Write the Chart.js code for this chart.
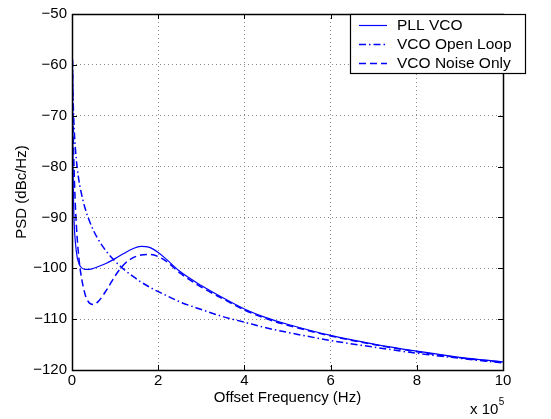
<!DOCTYPE html>
<html>
<head>
<meta charset="utf-8">
<title>PSD</title>
<script src="https://cdn.jsdelivr.net/npm/chart.js@4/dist/chart.umd.min.js"></script>
<style>
  html, body { margin: 0; padding: 0; background: #fff; }
  canvas { display: block; }
</style>
</head>
<body>
<canvas id="chart" width="551" height="419"></canvas>
<script>
// offset frequency, in units of 1e5 Hz
const freq = [0.01, 0.02, 0.03, 0.05, 0.08, 0.12, 0.16, 0.2, 0.3, 0.4, 0.5, 0.6, 0.8, 1.0, 1.2, 1.4, 1.6, 1.8, 2.0, 2.2, 2.5, 3.0, 3.5, 4.0, 4.5, 5.0, 6.0, 7.0, 8.0, 9.0, 10.0];

// PSD values (dBc/Hz)
const pllVco = [-59, -75, -84, -91, -95, -97.8, -99, -99.7, -100.2, -100.2, -100.0, -99.7, -99.0, -98.1, -97.1, -96.2, -95.7, -95.9, -96.9, -98.3, -100.6, -103.4, -105.8, -108.0, -109.7, -111.0, -113.2, -114.9, -116.3, -117.5, -118.4];
const vcoOpenLoop = [-59, -64.5, -68, -72.5, -76.6, -80.2, -82.7, -84.6, -88.1, -90.6, -92.6, -94.2, -96.7, -98.6, -100.2, -101.5, -102.7, -103.7, -104.6, -105.4, -106.6, -108.1, -109.5, -110.6, -111.7, -112.6, -114.2, -115.5, -116.7, -117.7, -118.6];
const vcoNoiseOnly = [-59, -68, -74, -81, -88, -94, -98, -100.8, -105, -106.8, -107.1, -106.6, -104.3, -101.5, -99.3, -98.0, -97.4, -97.3, -97.7, -98.7, -100.9, -103.7, -106.0, -108.2, -109.9, -111.2, -113.3, -115.0, -116.4, -117.6, -118.5];

const seriesNames = ["PLL VCO", "VCO Open Loop", "VCO Noise Only"];
const xTicks = [0, 2, 4, 6, 8, 10];
const yTicks = [-120, -110, -100, -90, -80, -70, -60, -50];

const FONT = "'Liberation Sans', Arial, Helvetica, sans-serif";
const BLUE = "#0000ff";

const pts = (ys) => freq.map((f, i) => ({ x: f, y: ys[i] }));
const minus = (v) => String(v).replace("-", "\u2212");

// box, inward ticks, exponent label and legend, MATLAB style
const matlabFrame = {
  id: "matlabFrame",
  afterDraw(chart) {
    const { ctx, chartArea: a, scales } = chart;
    const xs = scales.x, ys = scales.y;
    ctx.save();
    ctx.setLineDash([]);
    ctx.strokeStyle = "#000";
    ctx.lineWidth = 1;

    const tl = 5;
    ctx.beginPath();
    xTicks.forEach((t) => {
      const px = Math.round(xs.getPixelForValue(t)) + 0.5;
      ctx.moveTo(px, a.bottom); ctx.lineTo(px, a.bottom - tl);
      ctx.moveTo(px, a.top); ctx.lineTo(px, a.top + tl);
    });
    yTicks.forEach((t) => {
      const py = Math.round(ys.getPixelForValue(t)) + 0.5;
      ctx.moveTo(a.left, py); ctx.lineTo(a.left + tl, py);
      ctx.moveTo(a.right, py); ctx.lineTo(a.right - tl, py);
    });
    ctx.stroke();

    ctx.lineWidth = 1.5;
    ctx.strokeRect(Math.round(a.left) + 0.5, Math.round(a.top) + 0.5,
      Math.round(a.right - a.left), Math.round(a.bottom - a.top));

    // x 10^5
    ctx.fillStyle = "#000";
    ctx.textBaseline = "alphabetic";
    ctx.textAlign = "left";
    ctx.font = "15px " + FONT;
    const base = "x 10";
    const bx = 470;
    ctx.fillText(base, bx, 414);
    const bw = ctx.measureText(base).width;
    ctx.font = "10px " + FONT;
    ctx.fillText("5", bx + bw + 0.5, 405);

    // legend
    const lx = 350, ly = 14, lw = 175, lh = 59;
    ctx.fillStyle = "#fff";
    ctx.fillRect(lx, ly, lw, lh);
    ctx.lineWidth = 1.2;
    ctx.strokeStyle = "#000";
    ctx.strokeRect(lx + 0.5, ly + 0.5, lw, lh);
    ctx.font = "15.5px " + FONT;
    ctx.textBaseline = "middle";
    chart.data.datasets.forEach((ds, i) => {
      const y = ly + 11 + i * 19;
      ctx.strokeStyle = BLUE;
      ctx.lineWidth = ds.borderWidth;
      ctx.setLineDash(ds.borderDash || []);
      ctx.beginPath();
      ctx.moveTo(359, y + 0.5);
      ctx.lineTo(387, y + 0.5);
      ctx.stroke();
      ctx.setLineDash([]);
      ctx.fillStyle = "#000";
      ctx.fillText(ds.label, 397, y + 1);
    });
    ctx.restore();
  }
};

const line = (label, ys, dash, width) => ({
  label,
  data: pts(ys),
  borderColor: BLUE,
  borderWidth: width,
  borderDash: dash,
  pointRadius: 0,
  fill: false,
  cubicInterpolationMode: "monotone"
});

new Chart(document.getElementById("chart"), {
  type: "line",
  data: {
    datasets: [
      line(seriesNames[0], pllVco, [], 1.2),
      line(seriesNames[1], vcoOpenLoop, [7, 3, 1.5, 3], 1.5),
      line(seriesNames[2], vcoNoiseOnly, [7, 4], 1.5)
    ]
  },
  options: {
    responsive: false,
    devicePixelRatio: 1,
    animation: false,
    layout: { padding: { top: 9, right: 48, left: 0, bottom: 0 } },
    plugins: { legend: { display: false }, tooltip: { enabled: false } },
    scales: {
      x: {
        type: "linear",
        min: 0,
        max: 10,
        afterFit: (s) => { s.height = 49; },
        afterBuildTicks: (s) => { s.ticks = xTicks.map((v) => ({ value: v })); },
        ticks: { color: "#000", font: { family: FONT, size: 15 }, padding: 2, maxRotation: 0 },
        grid: { color: "#8a8a8a", drawTicks: false },
        border: { display: false, dash: [1, 3] },
        title: {
          display: true,
          text: "Offset Frequency (Hz)",
          color: "#000",
          font: { family: FONT, size: 15 },
          padding: { top: 0, bottom: 12 }
        }
      },
      y: {
        type: "linear",
        min: -120,
        max: -50,
        afterFit: (s) => { s.width = 72; },
        afterBuildTicks: (s) => { s.ticks = yTicks.map((v) => ({ value: v })); },
        ticks: { color: "#000", font: { family: FONT, size: 15 }, padding: 5, callback: (v) => minus(v) },
        grid: { color: "#8a8a8a", drawTicks: false },
        border: { display: false, dash: [1, 3] },
        title: {
          display: true,
          text: "PSD (dBc/Hz)",
          color: "#000",
          font: { family: FONT, size: 15 },
          padding: { top: 13, bottom: 0 }
        }
      }
    }
  },
  plugins: [matlabFrame]
});
</script>
</body>
</html>
